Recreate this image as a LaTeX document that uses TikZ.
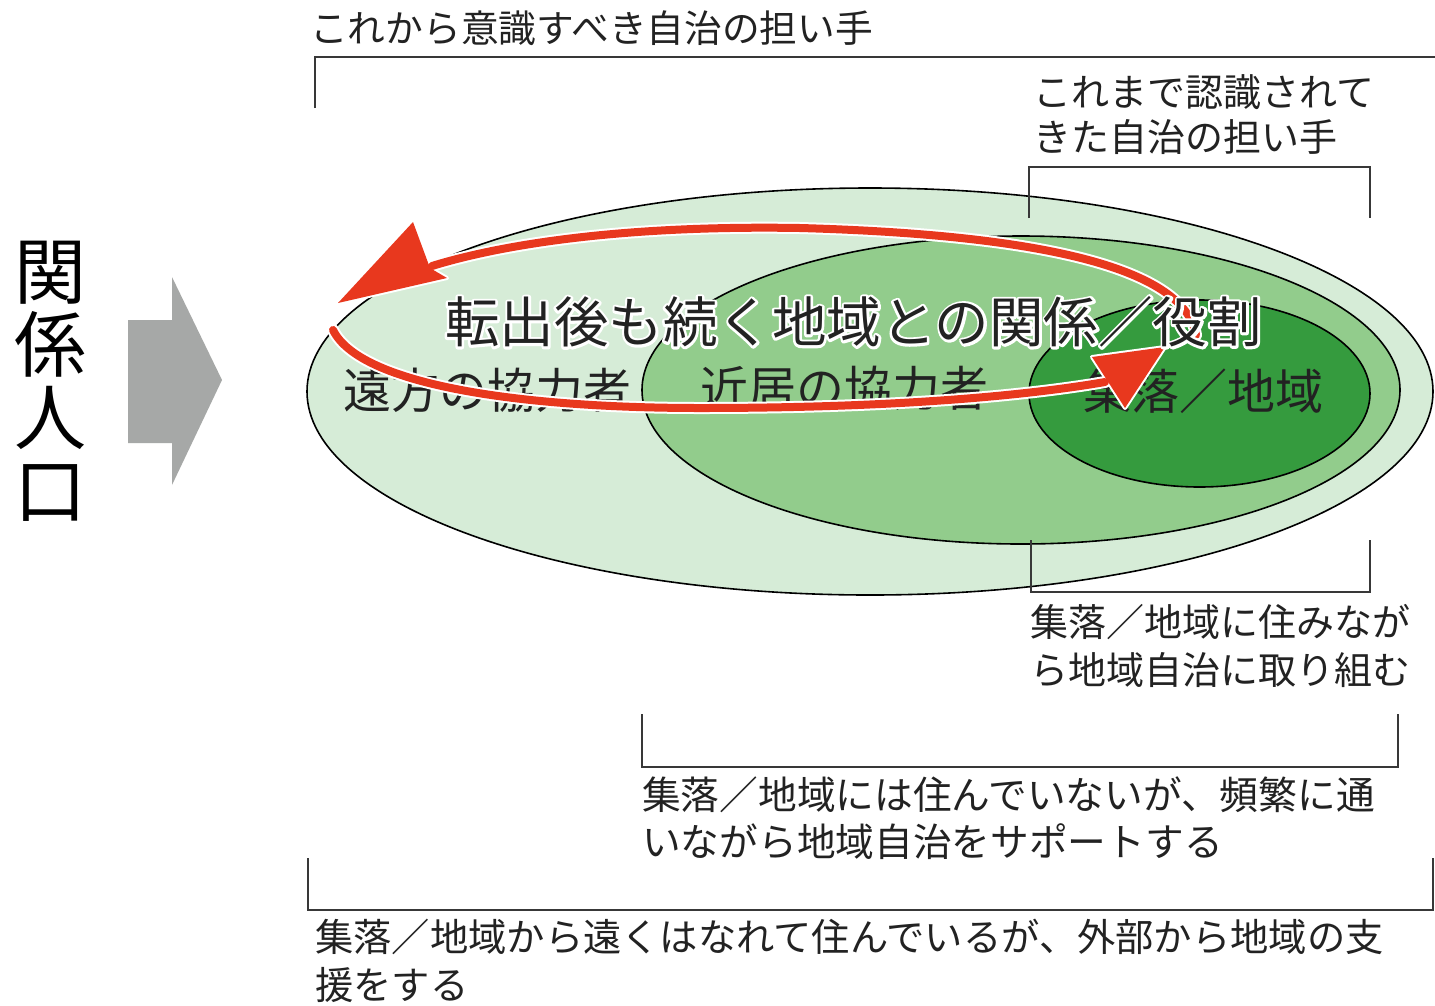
\documentclass[tikz,border=0pt]{standalone}
\usepackage{fontspec}
\setmainfont{Noto Sans CJK JP}
\definecolor{outerg}{HTML}{D6ECD7}
\definecolor{midg}{HTML}{92CC8C}
\definecolor{innerg}{HTML}{359B3E}
\definecolor{arrred}{HTML}{E8381E}
\definecolor{txt}{HTML}{222222}
\definecolor{grayarr}{HTML}{A6A8A7}
\newcommand{\myhalo}[1]{\rlap{\special{pdf:literal direct 1 Tr 5 w 1 1 1 RG 1 j}#1\special{pdf:literal direct 0 Tr 1 w}}#1}
\tikzset{
  zone/.style={draw=black, line width=1.6pt},
  bracketline/.style={draw=txt!90, line width=2pt},
  lbl/.style={anchor=west, inner sep=0pt, text=txt, font=\fontsize{38}{48}\selectfont},
  zonelbl/.style={anchor=west, inner sep=0pt, text=txt, font=\fontsize{48}{56}\selectfont},
  redhalo/.style={draw=white, line width=12pt, line cap=round},
  redline/.style={draw=arrred, line width=8pt, line cap=round},
  headhalo/.style={fill=white, draw=white, line width=4pt, line join=round},
  headfill/.style={fill=arrred}
}
\begin{document}
\begin{tikzpicture}[x=1pt,y=-1pt]
\useasboundingbox (0,0) rectangle (1435,1005);
\fill[white] (0,0) rectangle (1435,1005);

% left vertical label and grey arrow
\node[inner sep=0pt, align=center, text=black, font=\fontsize{72}{73}\selectfont] (kankei) at (50,381) {関\\係\\人\\口};
\fill[grayarr] (128,320) -- (172,320) -- (172,277) -- (222,380) -- (172,485) -- (172,443) -- (128,443) -- cycle;

% ellipses
\path[zone, fill=outerg] (870,391.5) ellipse [x radius=563, y radius=203.5];
\path[zone, fill=midg] (1021,390) ellipse [x radius=379, y radius=154];
\path[zone, fill=innerg] (1199.5,393.5) ellipse [x radius=170.5, y radius=93.5];

% zone labels
\node[zonelbl] (far) at (343,390) {遠方の協力者};
\node[zonelbl] (near) at (700,388) {近居の協力者};
\node[zonelbl] (local) at (1083,391) {集落／地域};

% brackets
\draw[bracketline] (315,108) -- (315,57) -- (1435,57);
\draw[bracketline] (1029,218) -- (1029,167) -- (1370,167) -- (1370,218);
\draw[bracketline] (1031,540) -- (1031,592) -- (1370,592) -- (1370,540);
\draw[bracketline] (642,714) -- (642,767) -- (1398,767) -- (1398,714);
\draw[bracketline] (308,858) -- (308,910) -- (1433,910) -- (1433,858);

% bracket labels
\node[lbl, font=\fontsize{37.7}{48}\selectfont] (t1) at (310,28) {これから意識すべき自治の担い手};
\node[lbl] (t2a) at (1033,92) {これまで認識されて};
\node[lbl] (t2b) at (1033,137) {きた自治の担い手};
\node[lbl] (t3a) at (1030,622) {集落／地域に住みなが};
\node[lbl] (t3b) at (1030,670) {ら地域自治に取り組む};
\node[lbl, font=\fontsize{38.7}{48}\selectfont] (t4a) at (642,795) {集落／地域には住んでいないが、頻繁に通};
\node[lbl, font=\fontsize{38.7}{48}\selectfont] (t4b) at (642,842) {いながら地域自治をサポートする};
\node[lbl, font=\fontsize{38.3}{48}\selectfont] (t5a) at (315,937) {集落／地域から遠くはなれて住んでいるが、外部から地域の支};
\node[lbl, font=\fontsize{38.3}{48}\selectfont] (t5b) at (315,985) {援をする};

% red loop
\coordinate (ustart) at (1196,335);
\coordinate (uend) at (432,266);
\coordinate (lstart) at (333,330);
\coordinate (lend) at (1105,382);
\draw[redhalo] (ustart) .. controls (1185,270) and (1050,235) .. (800,228) .. controls (620,225) and (500,245) .. (uend);
\draw[redhalo] (lstart) .. controls (360,385) and (520,408) .. (700,408) .. controls (900,408) and (1030,395) .. (lend);
\path[headhalo] (338,303) -- (413,222) -- (430,268) -- (447,278) -- cycle;
\path[headhalo] (1092,357) -- (1165,347) -- (1125,408) -- cycle;
\draw[redline] (ustart) .. controls (1185,270) and (1050,235) .. (800,228) .. controls (620,225) and (500,245) .. (uend);
\draw[redline] (lstart) .. controls (360,385) and (520,408) .. (700,408) .. controls (900,408) and (1030,395) .. (lend);
\path[headfill] (338,303) -- (413,222) -- (430,268) -- (447,278) -- cycle;
\path[headfill] (1092,357) -- (1165,347) -- (1125,408) -- cycle;

% main caption with white halo
\node[inner sep=0pt, text=txt, font=\fontsize{54.5}{60}\selectfont] (main) at (853.5,322) {\myhalo{転出後も続く地域との関係／役割}};
\end{tikzpicture}
\end{document}
